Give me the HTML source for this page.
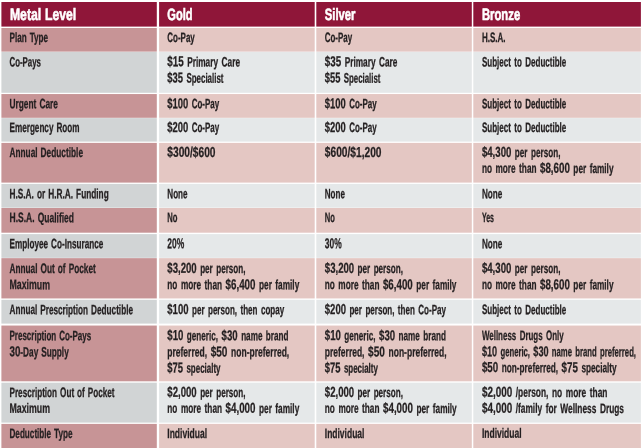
<!DOCTYPE html>
<html lang="en"><head><meta charset="utf-8"><title>Metal Level Plan Comparison</title>
<style>
html,body{margin:0;padding:0;background:#fff}
#t{position:relative;width:643px;height:448px;overflow:hidden;background:#fff;font-family:"Liberation Sans", sans-serif;font-weight:bold;color:#231f20;-webkit-text-stroke:0.3px #231f20}
.c{position:absolute}
.l{position:absolute;left:0;top:0;white-space:nowrap;word-spacing:2.0px;transform-origin:0 0;font-size:13.6px;line-height:13.6px;height:13.6px}
table,thead,tbody,tr,th,td{display:contents}
.l i{font-style:normal;display:inline-block;line-height:0;font-size:16.13px;transform:scaleY(0.8929);transform-origin:0 5.59px}
.a{word-spacing:1.2px}
.h{word-spacing:0.5px;font-size:16.5px;line-height:16.5px;height:16.5px;color:#fff;-webkit-text-stroke:0.6px #fff}
</style></head><body>
<div id="t">
<svg class="c" style="left:0;top:0" width="643" height="448" viewBox="0 0 643 448">
<rect x="1.4" y="2" width="155.4" height="24.6" fill="#8f1639"/>
<rect x="159.1" y="2" width="155.6" height="24.6" fill="#8f1639"/>
<rect x="316.3" y="2" width="155.5" height="24.6" fill="#8f1639"/>
<rect x="473.3" y="2" width="167.6" height="24.6" fill="#8f1639"/>
<rect x="1.4" y="28" width="155.4" height="23.65" fill="#c79496"/>
<rect x="159.1" y="28" width="155.6" height="23.65" fill="#e4c7c3"/>
<rect x="316.3" y="28" width="155.5" height="23.65" fill="#e4c7c3"/>
<rect x="473.3" y="28" width="167.6" height="23.65" fill="#e4c7c3"/>
<rect x="1.4" y="51.95" width="155.4" height="40.85" fill="#d1d4d5"/>
<rect x="159.1" y="51.95" width="155.6" height="40.85" fill="#e5e8e9"/>
<rect x="316.3" y="51.95" width="155.5" height="40.85" fill="#e5e8e9"/>
<rect x="473.3" y="51.95" width="167.6" height="40.85" fill="#e5e8e9"/>
<rect x="1.4" y="94.05" width="155.4" height="23.75" fill="#c79496"/>
<rect x="159.1" y="94.05" width="155.6" height="23.75" fill="#e4c7c3"/>
<rect x="316.3" y="94.05" width="155.5" height="23.75" fill="#e4c7c3"/>
<rect x="473.3" y="94.05" width="167.6" height="23.75" fill="#e4c7c3"/>
<rect x="1.4" y="118.1" width="155.4" height="23.5" fill="#d1d4d5"/>
<rect x="159.1" y="118.1" width="155.6" height="23.5" fill="#e5e8e9"/>
<rect x="316.3" y="118.1" width="155.5" height="23.5" fill="#e5e8e9"/>
<rect x="473.3" y="118.1" width="167.6" height="23.5" fill="#e5e8e9"/>
<rect x="1.4" y="142.9" width="155.4" height="39.7" fill="#c79496"/>
<rect x="159.1" y="142.9" width="155.6" height="39.7" fill="#e4c7c3"/>
<rect x="316.3" y="142.9" width="155.5" height="39.7" fill="#e4c7c3"/>
<rect x="473.3" y="142.9" width="167.6" height="39.7" fill="#e4c7c3"/>
<rect x="1.4" y="183.9" width="155.4" height="23.8" fill="#d1d4d5"/>
<rect x="159.1" y="183.9" width="155.6" height="23.8" fill="#e5e8e9"/>
<rect x="316.3" y="183.9" width="155.5" height="23.8" fill="#e5e8e9"/>
<rect x="473.3" y="183.9" width="167.6" height="23.8" fill="#e5e8e9"/>
<rect x="1.4" y="208.0" width="155.4" height="24.7" fill="#c79496"/>
<rect x="159.1" y="208.0" width="155.6" height="24.7" fill="#e4c7c3"/>
<rect x="316.3" y="208.0" width="155.5" height="24.7" fill="#e4c7c3"/>
<rect x="473.3" y="208.0" width="167.6" height="24.7" fill="#e4c7c3"/>
<rect x="1.4" y="234.1" width="155.4" height="23.75" fill="#d1d4d5"/>
<rect x="159.1" y="234.1" width="155.6" height="23.75" fill="#e5e8e9"/>
<rect x="316.3" y="234.1" width="155.5" height="23.75" fill="#e5e8e9"/>
<rect x="473.3" y="234.1" width="167.6" height="23.75" fill="#e5e8e9"/>
<rect x="1.4" y="258.15" width="155.4" height="40.3" fill="#c79496"/>
<rect x="159.1" y="258.15" width="155.6" height="40.3" fill="#e4c7c3"/>
<rect x="316.3" y="258.15" width="155.5" height="40.3" fill="#e4c7c3"/>
<rect x="473.3" y="258.15" width="167.6" height="40.3" fill="#e4c7c3"/>
<rect x="1.4" y="299.8" width="155.4" height="23.8" fill="#d1d4d5"/>
<rect x="159.1" y="299.8" width="155.6" height="23.8" fill="#e5e8e9"/>
<rect x="316.3" y="299.8" width="155.5" height="23.8" fill="#e5e8e9"/>
<rect x="473.3" y="299.8" width="167.6" height="23.8" fill="#e5e8e9"/>
<rect x="1.4" y="325.55" width="155.4" height="55.75" fill="#c79496"/>
<rect x="159.1" y="325.55" width="155.6" height="55.75" fill="#e4c7c3"/>
<rect x="316.3" y="325.55" width="155.5" height="55.75" fill="#e4c7c3"/>
<rect x="473.3" y="325.55" width="167.6" height="55.75" fill="#e4c7c3"/>
<rect x="1.4" y="382.7" width="155.4" height="39.9" fill="#d1d4d5"/>
<rect x="159.1" y="382.7" width="155.6" height="39.9" fill="#e5e8e9"/>
<rect x="316.3" y="382.7" width="155.5" height="39.9" fill="#e5e8e9"/>
<rect x="473.3" y="382.7" width="167.6" height="39.9" fill="#e5e8e9"/>
<rect x="1.4" y="423.9" width="155.4" height="24.1" fill="#c79496"/>
<rect x="159.1" y="423.9" width="155.6" height="24.1" fill="#e4c7c3"/>
<rect x="316.3" y="423.9" width="155.5" height="24.1" fill="#e4c7c3"/>
<rect x="473.3" y="423.9" width="167.6" height="24.1" fill="#e4c7c3"/>
</svg>
<table>
<thead>
<tr>
<th><span class="l h" style="transform:translate(9.9px,5.93px) scaleX(0.7416) rotate(0.05deg)">Metal Level</span></th>
<th><span class="l h" style="transform:translate(167.3px,5.93px) scaleX(0.6706) rotate(0.05deg)">Gold</span></th>
<th><span class="l h" style="transform:translate(324.8px,5.93px) scaleX(0.6829) rotate(0.05deg)">Silver</span></th>
<th><span class="l h" style="transform:translate(481.9px,5.93px) scaleX(0.6849) rotate(0.05deg)">Bronze</span></th>
</tr>
</thead>
<tbody>
<tr>
<th><span class="l a" style="transform:translate(9.5px,30.89px) scaleX(0.5978) rotate(0.05deg)">Plan Type</span></th>
<td><span class="l" style="transform:translate(167.3px,30.89px) scaleX(0.5860) rotate(0.05deg)">Co-Pay</span></td>
<td><span class="l" style="transform:translate(324.8px,30.89px) scaleX(0.5839) rotate(0.05deg)">Co-Pay</span></td>
<td><span class="l" style="transform:translate(481.9px,30.89px) scaleX(0.5895) rotate(0.05deg)">H.S.A.</span></td>
</tr>
<tr>
<th><span class="l a" style="transform:translate(9.5px,55.39px) scaleX(0.5790) rotate(0.05deg)">Co-Pays</span></th>
<td><span class="l" style="transform:translate(167.3px,55.39px) scaleX(0.6093) rotate(0.05deg)"><i>$15</i> Primary Care</span> <span class="l" style="transform:translate(167.3px,71.59px) scaleX(0.5846) rotate(0.05deg)"><i>$35</i> Specialist</span></td>
<td><span class="l" style="transform:translate(324.8px,55.39px) scaleX(0.6085) rotate(0.05deg)"><i>$35</i> Primary Care</span> <span class="l" style="transform:translate(324.8px,71.59px) scaleX(0.5794) rotate(0.05deg)"><i>$55</i> Specialist</span></td>
<td><span class="l" style="transform:translate(481.9px,55.39px) scaleX(0.5903) rotate(0.05deg)">Subject to Deductible</span></td>
</tr>
<tr>
<th><span class="l a" style="transform:translate(9.5px,97.19px) scaleX(0.6138) rotate(0.05deg)">Urgent Care</span></th>
<td><span class="l" style="transform:translate(167.3px,97.19px) scaleX(0.5872) rotate(0.05deg)"><i>$100</i> Co-Pay</span></td>
<td><span class="l" style="transform:translate(324.8px,97.19px) scaleX(0.5861) rotate(0.05deg)"><i>$100</i> Co-Pay</span></td>
<td><span class="l" style="transform:translate(481.9px,97.19px) scaleX(0.5903) rotate(0.05deg)">Subject to Deductible</span></td>
</tr>
<tr>
<th><span class="l a" style="transform:translate(9.5px,120.99px) scaleX(0.5994) rotate(0.05deg)">Emergency Room</span></th>
<td><span class="l" style="transform:translate(167.3px,120.99px) scaleX(0.5872) rotate(0.05deg)"><i>$200</i> Co-Pay</span></td>
<td><span class="l" style="transform:translate(324.8px,120.99px) scaleX(0.5861) rotate(0.05deg)"><i>$200</i> Co-Pay</span></td>
<td><span class="l" style="transform:translate(481.9px,120.99px) scaleX(0.5903) rotate(0.05deg)">Subject to Deductible</span></td>
</tr>
<tr>
<th><span class="l a" style="transform:translate(9.5px,145.89px) scaleX(0.6098) rotate(0.05deg)">Annual Deductible</span></th>
<td><span class="l" style="transform:translate(167.3px,145.89px) scaleX(0.6329) rotate(0.05deg)"><i>$300/$600</i></span></td>
<td><span class="l" style="transform:translate(324.8px,145.89px) scaleX(0.6329) rotate(0.05deg)"><i>$600/$1,200</i></span></td>
<td><span class="l" style="transform:translate(481.9px,145.89px) scaleX(0.5988) rotate(0.05deg)"><i>$4,300</i> per person,</span> <span class="l" style="transform:translate(481.9px,161.79px) scaleX(0.6060) rotate(0.05deg)">no more than <i>$8,600</i> per family</span></td>
</tr>
<tr>
<th><span class="l a" style="transform:translate(9.5px,187.24px) scaleX(0.6091) rotate(0.05deg)">H.S.A. or H.R.A. Funding</span></th>
<td><span class="l" style="transform:translate(167.3px,187.24px) scaleX(0.5944) rotate(0.05deg)">None</span></td>
<td><span class="l" style="transform:translate(324.8px,187.24px) scaleX(0.5914) rotate(0.05deg)">None</span></td>
<td><span class="l" style="transform:translate(481.9px,187.24px) scaleX(0.6003) rotate(0.05deg)">None</span></td>
</tr>
<tr>
<th><span class="l a" style="transform:translate(9.5px,211.09px) scaleX(0.6252) rotate(0.05deg)">H.S.A. Qualified</span></th>
<td><span class="l" style="transform:translate(167.3px,211.09px) scaleX(0.5628) rotate(0.05deg)">No</span></td>
<td><span class="l" style="transform:translate(324.8px,211.09px) scaleX(0.5572) rotate(0.05deg)">No</span></td>
<td><span class="l" style="transform:translate(481.9px,211.09px) scaleX(0.5163) rotate(0.05deg)">Yes</span></td>
</tr>
<tr>
<th><span class="l a" style="transform:translate(9.5px,237.19px) scaleX(0.6007) rotate(0.05deg)">Employee Co-Insurance</span></th>
<td><span class="l" style="transform:translate(167.3px,237.19px) scaleX(0.5256) rotate(0.05deg)"><i>20%</i></span></td>
<td><span class="l" style="transform:translate(324.8px,237.19px) scaleX(0.5225) rotate(0.05deg)"><i>30%</i></span></td>
<td><span class="l" style="transform:translate(481.9px,237.19px) scaleX(0.6003) rotate(0.05deg)">None</span></td>
</tr>
<tr>
<th><span class="l a" style="transform:translate(9.5px,261.89px) scaleX(0.6082) rotate(0.05deg)">Annual Out of Pocket</span> <span class="l a" style="transform:translate(9.5px,278.09px) scaleX(0.6459) rotate(0.05deg)">Maximum</span></th>
<td><span class="l" style="transform:translate(167.3px,261.89px) scaleX(0.5965) rotate(0.05deg)"><i>$3,200</i> per person,</span> <span class="l" style="transform:translate(167.3px,278.09px) scaleX(0.6076) rotate(0.05deg)">no more than <i>$6,400</i> per family</span></td>
<td><span class="l" style="transform:translate(324.8px,261.89px) scaleX(0.5958) rotate(0.05deg)"><i>$3,200</i> per person,</span> <span class="l" style="transform:translate(324.8px,278.09px) scaleX(0.6062) rotate(0.05deg)">no more than <i>$6,400</i> per family</span></td>
<td><span class="l" style="transform:translate(481.9px,261.89px) scaleX(0.5988) rotate(0.05deg)"><i>$4,300</i> per person,</span> <span class="l" style="transform:translate(481.9px,278.09px) scaleX(0.6060) rotate(0.05deg)">no more than <i>$8,600</i> per family</span></td>
</tr>
<tr>
<th><span class="l a" style="transform:translate(9.5px,303.09px) scaleX(0.6029) rotate(0.05deg)">Annual Prescription Deductible</span></th>
<td><span class="l" style="transform:translate(167.3px,303.09px) scaleX(0.5931) rotate(0.05deg)"><i>$100</i> per person, then copay</span></td>
<td><span class="l" style="transform:translate(324.8px,303.09px) scaleX(0.5920) rotate(0.05deg)"><i>$200</i> per person, then Co-Pay</span></td>
<td><span class="l" style="transform:translate(481.9px,303.09px) scaleX(0.5903) rotate(0.05deg)">Subject to Deductible</span></td>
</tr>
<tr>
<th><span class="l a" style="transform:translate(9.5px,329.09px) scaleX(0.5894) rotate(0.05deg)">Prescription Co-Pays</span> <span class="l a" style="transform:translate(9.5px,345.39px) scaleX(0.6065) rotate(0.05deg)"><i>30</i>-Day Supply</span></th>
<td><span class="l" style="transform:translate(167.3px,329.09px) scaleX(0.5991) rotate(0.05deg)"><i>$10</i> generic, <i>$30</i> name brand</span> <span class="l" style="transform:translate(167.3px,345.39px) scaleX(0.6259) rotate(0.05deg)">preferred, <i>$50</i> non-preferred,</span> <span class="l" style="transform:translate(167.3px,361.59px) scaleX(0.5855) rotate(0.05deg)"><i>$75</i> specialty</span></td>
<td><span class="l" style="transform:translate(324.8px,329.09px) scaleX(0.5986) rotate(0.05deg)"><i>$10</i> generic, <i>$30</i> name brand</span> <span class="l" style="transform:translate(324.8px,345.39px) scaleX(0.6254) rotate(0.05deg)">preferred, <i>$50</i> non-preferred,</span> <span class="l" style="transform:translate(324.8px,361.59px) scaleX(0.5844) rotate(0.05deg)"><i>$75</i> specialty</span></td>
<td><span class="l" style="transform:translate(481.9px,328.89px) scaleX(0.5854) rotate(0.05deg)">Wellness Drugs Only</span> <span class="l" style="transform:translate(481.9px,345.19px) scaleX(0.5675) rotate(0.05deg)"><i>$10</i> generic, <i>$30</i> name brand preferred,</span> <span class="l" style="transform:translate(481.9px,361.09px) scaleX(0.6067) rotate(0.05deg)"><i>$50</i> non-preferred, <i>$75</i> specialty</span></td>
</tr>
<tr>
<th><span class="l a" style="transform:translate(9.5px,385.89px) scaleX(0.5998) rotate(0.05deg)">Prescription Out of Pocket</span> <span class="l a" style="transform:translate(9.5px,401.79px) scaleX(0.6459) rotate(0.05deg)">Maximum</span></th>
<td><span class="l" style="transform:translate(167.3px,385.89px) scaleX(0.5965) rotate(0.05deg)"><i>$2,000</i> per person,</span> <span class="l" style="transform:translate(167.3px,401.79px) scaleX(0.6076) rotate(0.05deg)">no more than <i>$4,000</i> per family</span></td>
<td><span class="l" style="transform:translate(324.8px,385.89px) scaleX(0.5958) rotate(0.05deg)"><i>$2,000</i> per person,</span> <span class="l" style="transform:translate(324.8px,401.79px) scaleX(0.6072) rotate(0.05deg)">no more than <i>$4,000</i> per family</span></td>
<td><span class="l" style="transform:translate(481.9px,385.79px) scaleX(0.6158) rotate(0.05deg)"><i>$2,000</i> /person, no more than</span> <span class="l" style="transform:translate(481.9px,401.79px) scaleX(0.6137) rotate(0.05deg)"><i>$4,000</i> /family for Wellness Drugs</span></td>
</tr>
<tr>
<th><span class="l a" style="transform:translate(9.5px,426.89px) scaleX(0.5989) rotate(0.05deg)">Deductible Type</span></th>
<td><span class="l" style="transform:translate(167.3px,426.89px) scaleX(0.6257) rotate(0.05deg)">Individual</span></td>
<td><span class="l" style="transform:translate(324.8px,426.89px) scaleX(0.6241) rotate(0.05deg)">Individual</span></td>
<td><span class="l" style="transform:translate(481.9px,426.69px) scaleX(0.6257) rotate(0.05deg)">Individual</span></td>
</tr>
</tbody>
</table>
</div>
</body></html>
